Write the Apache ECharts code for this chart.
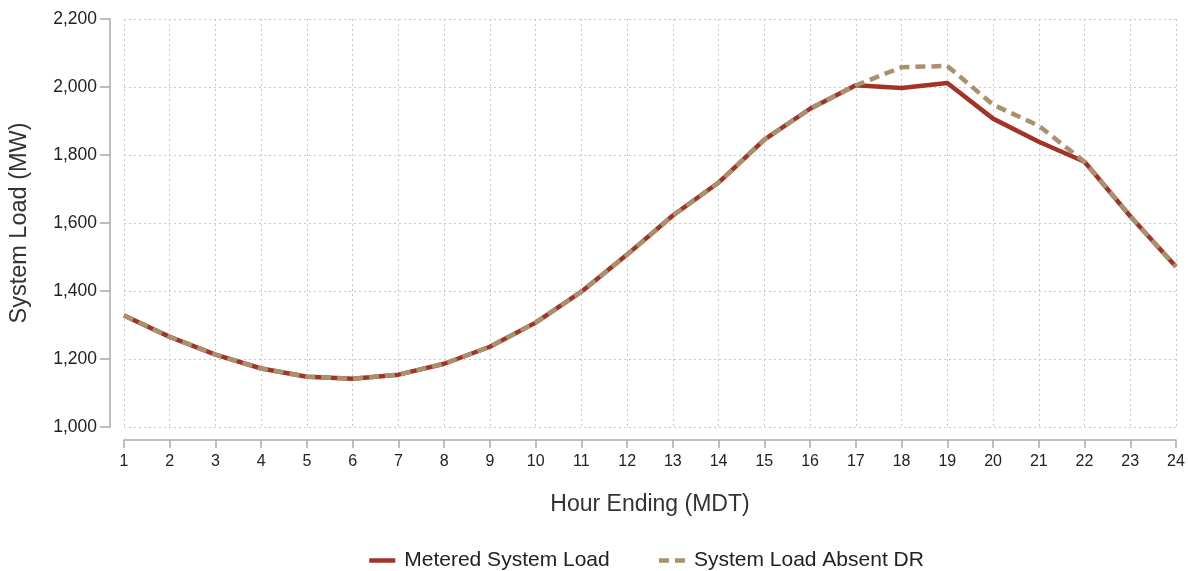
<!DOCTYPE html>
<html><head><meta charset="utf-8">
<script src="https://cdn.jsdelivr.net/npm/echarts@6/dist/echarts.min.js"></script>
<style>html,body{margin:0;padding:0;background:#fff}#c{width:1188px;height:571px}</style>
</head><body><div id="c"></div>
<script>
const hours = [1,2,3,4,5,6,7,8,9,10,11,12,13,14,15,16,17,18,19,20,21,22,23,24];
const metered = [1328,1265,1213,1172,1148,1142,1154,1186,1236,1307,1398,1507,1622,1719,1845,1936,2005,1997,2012,1907,1839,1780,1620,1471];
const absentDR = [1328,1265,1213,1172,1148,1142,1154,1186,1236,1307,1398,1507,1622,1719,1845,1936,2005,2058,2062,1948,1886,1780,1620,1471];
const yTicks = [1000,1200,1400,1600,1800,2000,2200];

const chart = echarts.init(document.getElementById('c'), null, {renderer:'canvas'});
const font = '"Liberation Sans", Arial, sans-serif';
const gridLine = {show:true, lineStyle:{color:'#c8c8c8', type:[2,3], width:1}};
chart.setOption({
  animation:false,
  textStyle:{fontFamily:font},
  grid:{left:124, right:12, top:19, bottom:144, containLabel:false, outerBoundsMode:'none'},
  xAxis:{
    type:'value', min:1, max:24, interval:1, offset:13,
    name:'Hour Ending (MDT)', nameLocation:'middle', nameGap:53,
    nameTextStyle:{fontSize:23, color:'#333', fontFamily:font},
    axisLine:{show:true, lineStyle:{color:'#aaa', width:1.5}},
    axisTick:{show:true, length:8, lineStyle:{color:'#aaa', width:1.5}},
    axisLabel:{fontSize:16, color:'#222', margin:14, fontFamily:font},
    splitLine:gridLine
  },
  yAxis:{
    type:'value', min:yTicks[0], max:yTicks[yTicks.length-1], interval:200, offset:14,
    name:'System Load (MW)', nameLocation:'middle', nameGap:78, nameRotate:90,
    nameTextStyle:{fontSize:23.5, color:'#333', fontFamily:font},
    axisLine:{show:true, lineStyle:{color:'#aaa', width:1.5}},
    axisTick:{show:true, length:10, lineStyle:{color:'#aaa', width:1.5}},
    axisLabel:{fontSize:17.5, color:'#222', margin:13, fontFamily:font,
      formatter:v=>v.toLocaleString('en-US')},
    splitLine:gridLine
  },
  legend:{
    left:362, top:545, itemWidth:26, itemHeight:14, itemGap:47,
    itemStyle:{opacity:0},
    lineStyle:{width:4.5},
    textStyle:{fontSize:21, color:'#222', fontFamily:font, padding:[0,0,0,4]},
    data:['Metered System Load','System Load Absent DR']
  },
  series:[
    {name:'Metered System Load', type:'line', data:hours.map((h,i)=>[h,metered[i]]),
     symbol:'none', lineStyle:{color:'#a33327', width:4.5}, itemStyle:{color:'#a33327'}, z:2},
    {name:'System Load Absent DR', type:'line', data:hours.map((h,i)=>[h,absentDR[i]]),
     symbol:'none', lineStyle:{color:'#a8916c', width:4.5, type:[10,6]}, itemStyle:{color:'#a8916c'}, z:3}
  ]
});
</script></body></html>
